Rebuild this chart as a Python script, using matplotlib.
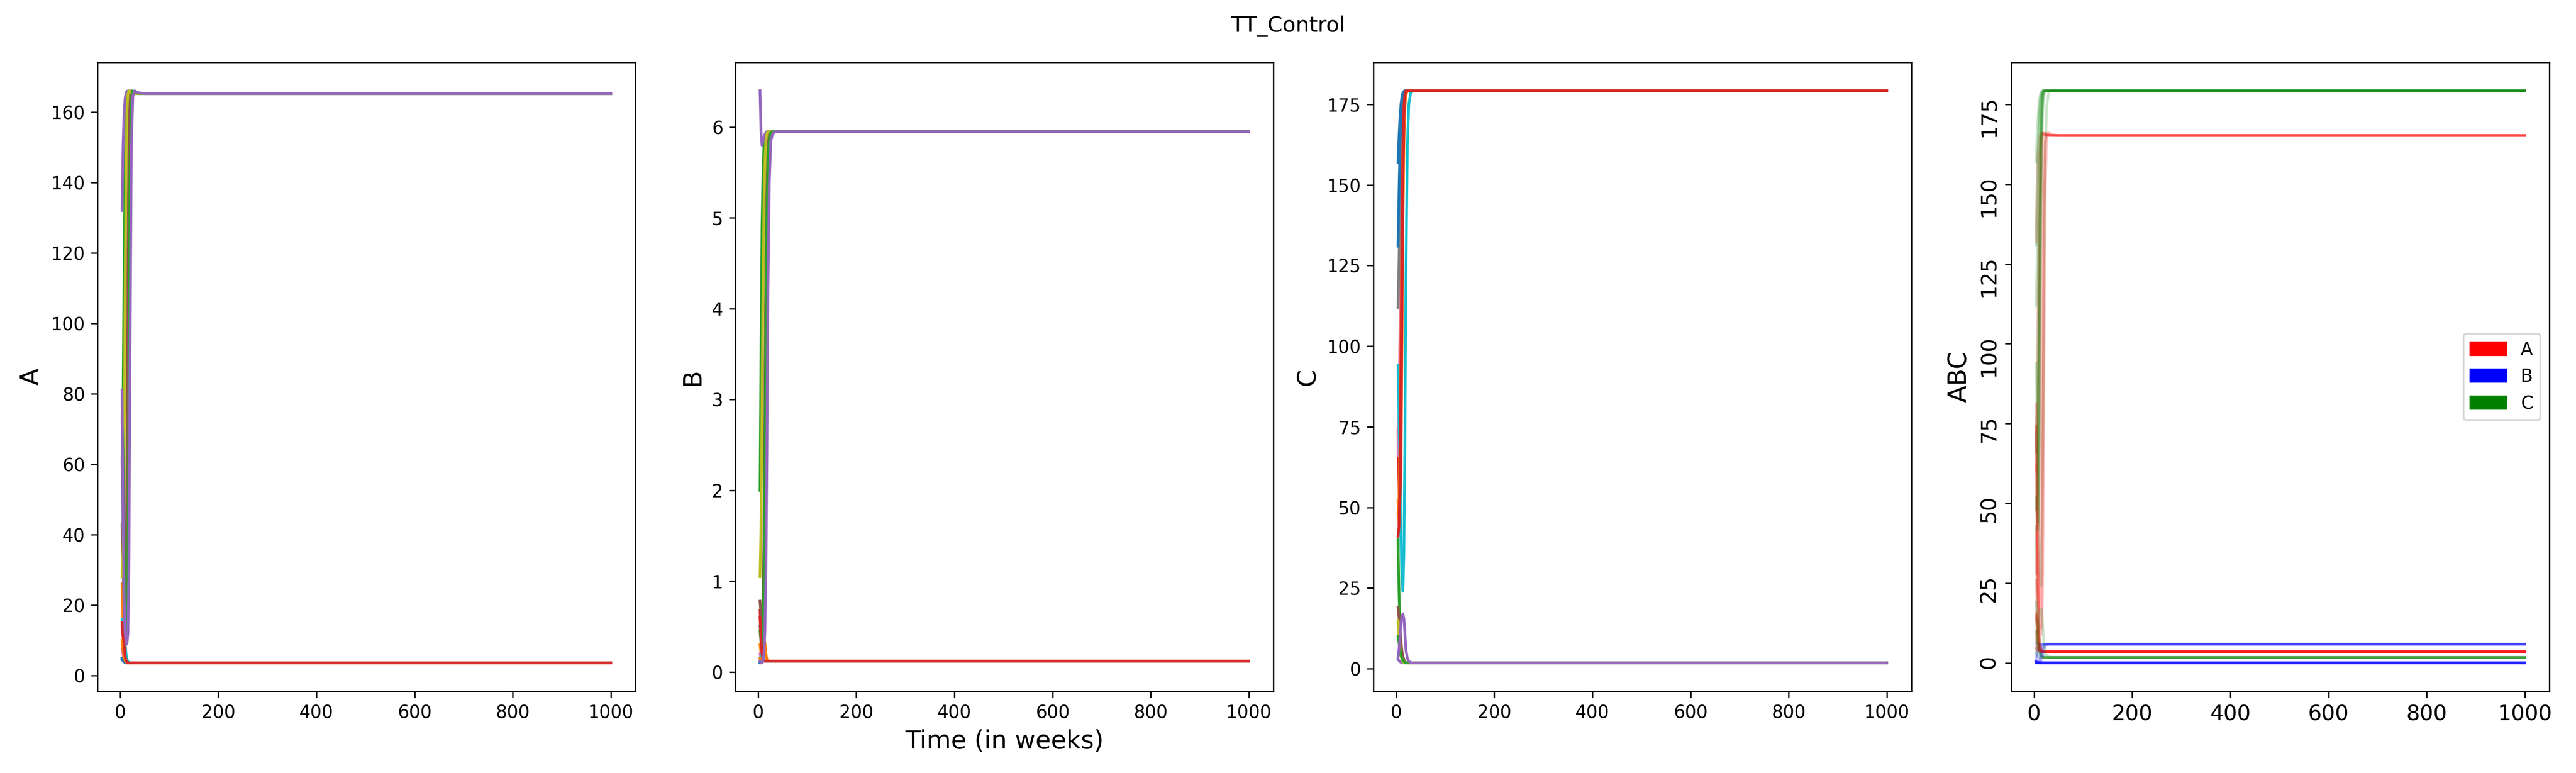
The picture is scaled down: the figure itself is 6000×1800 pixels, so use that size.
import matplotlib
matplotlib.use('Agg')
from matplotlib import pyplot as plt
import matplotlib.patches as mpatches

# time points (weeks) shared by all runs
T = [4, 6, 8, 10, 12, 14, 16, 18, 20, 23, 26, 30, 36, 50, 1000]

# A for each run
A_runs = [
    [5.0, 4.4, 4.0, 3.8, 3.7, 3.6, 3.6, 3.6, 3.6, 3.6, 3.6, 3.6, 3.6, 3.6, 3.6],
    [26, 14, 8, 5.2, 4.2, 3.8, 3.7, 3.6, 3.6, 3.6, 3.6, 3.6, 3.6, 3.6, 3.6],
    [60, 78, 112, 142, 158, 164, 165.8, 166.0, 165.8, 165.5, 165.3, 165.2, 165.2, 165.2, 165.2],
    [14, 11, 7.5, 5.2, 4.1, 3.8, 3.7, 3.6, 3.6, 3.6, 3.6, 3.6, 3.6, 3.6, 3.6],
    [132, 150, 159, 163.5, 165.3, 165.9, 165.8, 165.5, 165.4, 165.3, 165.2, 165.2, 165.2, 165.2, 165.2],
    [43, 30, 21, 17, 24, 60, 118, 155, 164.5, 166, 165.7, 165.4, 165.2, 165.2, 165.2],
    [7.5, 6.0, 4.9, 4.2, 3.8, 3.7, 3.6, 3.6, 3.6, 3.6, 3.6, 3.6, 3.6, 3.6, 3.6],
    [62, 40, 22, 11, 6.2, 4.5, 3.9, 3.7, 3.6, 3.6, 3.6, 3.6, 3.6, 3.6, 3.6],
    [28, 34, 55, 100, 142, 160, 165, 166, 165.8, 165.5, 165.3, 165.2, 165.2, 165.2, 165.2],
    [16, 14, 11.5, 8.5, 6, 4.6, 4.0, 3.7, 3.6, 3.6, 3.6, 3.6, 3.6, 3.6, 3.6],
    [4.5, 4.2, 3.9, 3.7, 3.6, 3.6, 3.6, 3.6, 3.6, 3.6, 3.6, 3.6, 3.6, 3.6, 3.6],
    [10, 7.2, 5.3, 4.3, 3.9, 3.7, 3.6, 3.6, 3.6, 3.6, 3.6, 3.6, 3.6, 3.6, 3.6],
    [74, 64, 42, 22, 13, 11, 22, 75, 140, 163, 166, 165.6, 165.3, 165.2, 165.2],
    [15, 13, 9, 5.8, 4.3, 3.8, 3.7, 3.6, 3.6, 3.6, 3.6, 3.6, 3.6, 3.6, 3.6],
    [81, 48, 24, 12.5, 9.5, 9, 12, 30, 85, 150, 164.5, 166, 165.5, 165.2, 165.2],
]

# B for each run
B_runs = [
    [0.15, 0.13, 0.12, 0.12, 0.12, 0.12, 0.12, 0.12, 0.12, 0.12, 0.12, 0.12, 0.12, 0.12, 0.12],
    [0.30, 0.20, 0.15, 0.20, 0.38, 0.32, 0.20, 0.14, 0.12, 0.12, 0.12, 0.12, 0.12, 0.12, 0.12],
    [2.0, 3.6, 4.9, 5.5, 5.8, 5.9, 5.94, 5.95, 5.95, 5.95, 5.95, 5.95, 5.95, 5.95, 5.95],
    [0.68, 0.40, 0.22, 0.15, 0.13, 0.12, 0.12, 0.12, 0.12, 0.12, 0.12, 0.12, 0.12, 0.12, 0.12],
    [6.4, 5.95, 5.8, 5.84, 5.89, 5.92, 5.94, 5.95, 5.95, 5.95, 5.95, 5.95, 5.95, 5.95, 5.95],
    [0.78, 0.62, 0.55, 0.75, 1.5, 3.0, 4.5, 5.4, 5.8, 5.92, 5.95, 5.95, 5.95, 5.95, 5.95],
    [0.20, 0.15, 0.13, 0.12, 0.12, 0.12, 0.12, 0.12, 0.12, 0.12, 0.12, 0.12, 0.12, 0.12, 0.12],
    [0.5, 0.38, 0.25, 0.16, 0.13, 0.12, 0.12, 0.12, 0.12, 0.12, 0.12, 0.12, 0.12, 0.12, 0.12],
    [1.05, 1.6, 2.8, 4.2, 5.1, 5.6, 5.85, 5.93, 5.95, 5.95, 5.95, 5.95, 5.95, 5.95, 5.95],
    [0.15, 0.18, 0.2, 0.16, 0.13, 0.12, 0.12, 0.12, 0.12, 0.12, 0.12, 0.12, 0.12, 0.12, 0.12],
    [0.10, 0.11, 0.12, 0.12, 0.12, 0.12, 0.12, 0.12, 0.12, 0.12, 0.12, 0.12, 0.12, 0.12, 0.12],
    [0.15, 0.13, 0.12, 0.12, 0.12, 0.12, 0.12, 0.12, 0.12, 0.12, 0.12, 0.12, 0.12, 0.12, 0.12],
    [0.45, 0.32, 0.28, 0.45, 1.0, 2.2, 3.9, 5.0, 5.6, 5.88, 5.94, 5.95, 5.95, 5.95, 5.95],
    [0.60, 0.35, 0.2, 0.14, 0.12, 0.12, 0.12, 0.12, 0.12, 0.12, 0.12, 0.12, 0.12, 0.12, 0.12],
    [0.12, 0.10, 0.10, 0.12, 0.2, 0.45, 1.1, 2.4, 4.1, 5.4, 5.85, 5.93, 5.95, 5.95, 5.95],
]

# C for each run
C_runs = [
    [157, 165, 171, 175, 177.5, 178.6, 179, 179.2, 179.2, 179.2, 179.2, 179.2, 179.2, 179.2, 179.2],
    [52, 45, 42, 58, 98, 138, 163, 174, 178, 179, 179.2, 179.2, 179.2, 179.2, 179.2],
    [40, 24, 12, 6, 3.6, 2.5, 2.0, 1.9, 1.8, 1.8, 1.8, 1.8, 1.8, 1.8, 1.8],
    [74, 56, 44, 68, 112, 152, 171, 177.5, 179, 179.2, 179.2, 179.2, 179.2, 179.2, 179.2],
    [3.0, 2.5, 2.2, 2.0, 1.9, 1.8, 1.8, 1.8, 1.8, 1.8, 1.8, 1.8, 1.8, 1.8, 1.8],
    [19, 16, 12, 8.5, 5.5, 3.8, 2.8, 2.2, 1.9, 1.8, 1.8, 1.8, 1.8, 1.8, 1.8],
    [66, 80, 104, 134, 157, 170, 176.5, 178.8, 179.2, 179.2, 179.2, 179.2, 179.2, 179.2, 179.2],
    [112, 126, 146, 162, 172, 177, 178.8, 179.2, 179.2, 179.2, 179.2, 179.2, 179.2, 179.2, 179.2],
    [15, 10, 6.5, 4, 2.8, 2.2, 1.9, 1.8, 1.8, 1.8, 1.8, 1.8, 1.8, 1.8, 1.8],
    [94, 78, 58, 40, 28, 24, 36, 70, 120, 162, 175, 178.8, 179.2, 179.2, 179.2],
    [131, 148, 162, 171, 176, 178, 179, 179.2, 179.2, 179.2, 179.2, 179.2, 179.2, 179.2, 179.2],
    [48, 53, 70, 104, 140, 163, 174, 178, 179, 179.2, 179.2, 179.2, 179.2, 179.2, 179.2],
    [10, 8, 6, 4.2, 3.2, 2.6, 2.2, 2.0, 1.9, 1.8, 1.8, 1.8, 1.8, 1.8, 1.8],
    [41, 44, 60, 94, 134, 161, 174, 178, 179.2, 179.2, 179.2, 179.2, 179.2, 179.2, 179.2],
    [3.5, 6, 10, 14, 16.5, 17, 15.5, 11, 6, 3.2, 2.3, 1.9, 1.8, 1.8, 1.8],
]

fig, axes = plt.subplots(1, 4, figsize=(20, 6))

for a in A_runs:
    axes[0].plot(T, a)
axes[0].set_ylabel('A', fontsize=14)

for b in B_runs:
    axes[1].plot(T, b)
axes[1].set_ylabel('B', fontsize=14)
axes[1].set_xlabel('Time (in weeks)', fontsize=14)

for c in C_runs:
    axes[2].plot(T, c)
axes[2].set_ylabel('C', fontsize=14)

ax = axes[3]
for a, b, c in zip(A_runs, B_runs, C_runs):
    ax.plot(T, a, color='red', alpha=0.2)
    ax.plot(T, b, color='blue', alpha=0.2)
    ax.plot(T, c, color='green', alpha=0.2)
ax.set_ylabel('ABC', fontsize=14)
ax.tick_params(labelsize=12)
ax.tick_params(axis='y', labelrotation=90)
handles = [mpatches.Patch(color='red', label='A'),
           mpatches.Patch(color='blue', label='B'),
           mpatches.Patch(color='green', label='C')]
ax.legend(handles=handles, loc='center right')

fig.suptitle('TT_Control')
fig.tight_layout()
fig.savefig('out.png', dpi=300)
